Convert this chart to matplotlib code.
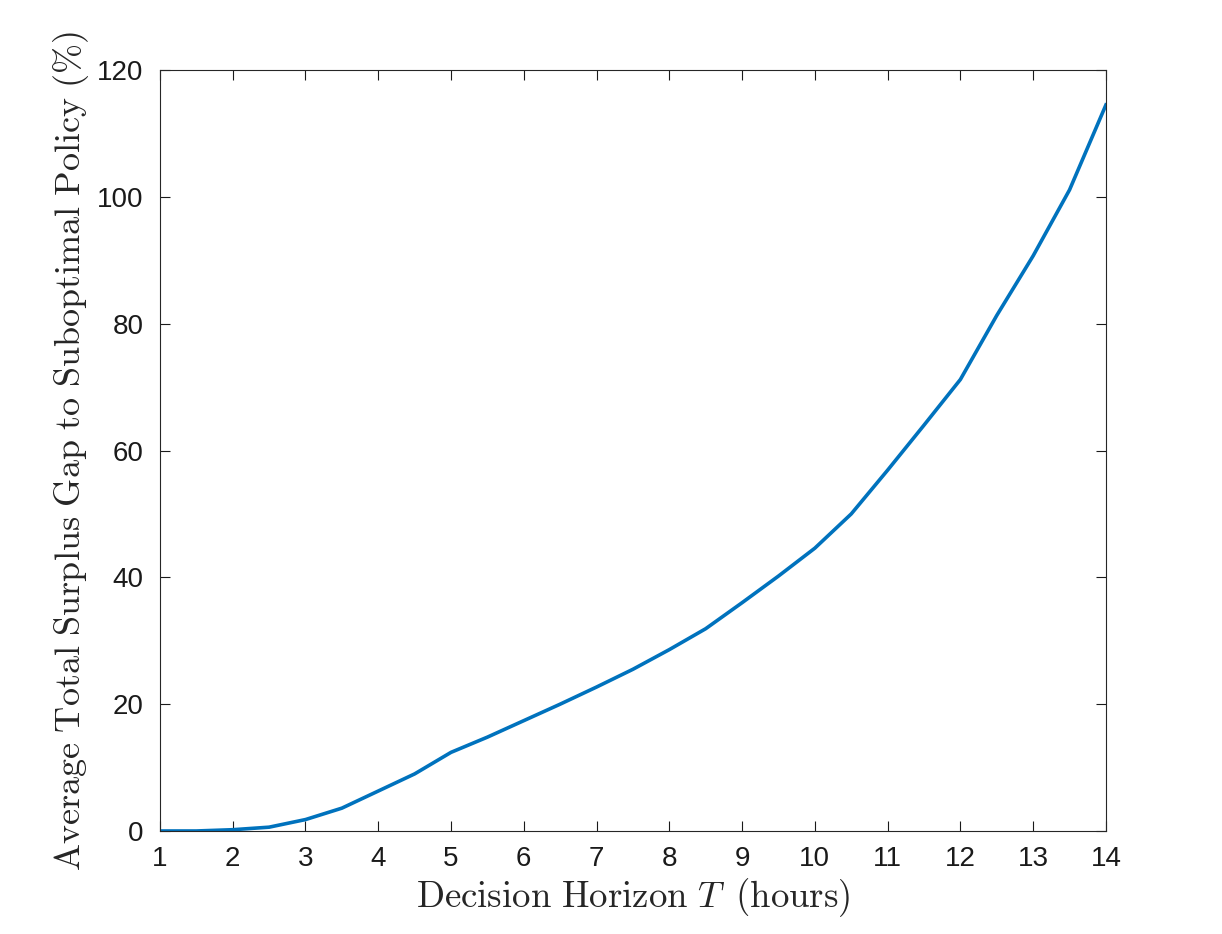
import matplotlib
matplotlib.use("Agg")
import matplotlib.pyplot as plt

horizon = [1, 1.5, 2, 2.5, 3, 3.5, 4, 4.5, 5, 5.5, 6, 6.5, 7, 7.5, 8, 8.5, 9, 9.5,
           10, 10.5, 11, 11.5, 12, 12.5, 13, 13.5, 14]
gap = [0.0, 0.0, 0.2, 0.6, 1.8, 3.6, 6.3, 9.0, 12.4, 14.8, 17.4, 20.0, 22.7, 25.5,
       28.6, 31.9, 36.0, 40.2, 44.6, 50.0, 56.9, 64.0, 71.2, 81.3, 90.7, 101.1, 114.5]
xticks = list(range(1, 15))
yticks = [0, 20, 40, 60, 80, 100, 120]

plt.rcParams['mathtext.fontset'] = 'cm'
plt.rcParams['font.family'] = ['Liberation Sans', 'DejaVu Sans']

fig = plt.figure(figsize=(12.22, 9.34), dpi=100)
ax = fig.add_axes([0.1309, 0.1103, 0.7741, 0.8147])
ax.plot(horizon, gap, color='#0072BD', linewidth=2.6)
ax.set_xlim(1, 14)
ax.set_ylim(0, 120)
ax.set_xticks(xticks)
ax.set_yticks(yticks)
ax.tick_params(direction='in', top=True, right=True, length=7, width=0.8,
               labelsize=20, colors='#1a1a1a')
ax.tick_params(axis='x', pad=11)
ax.tick_params(axis='y', pad=12)
for s in ax.spines.values():
    s.set_linewidth(0.8)
    s.set_color('#262626')
ax.set_xlabel(r'$\mathrm{Decision\ Horizon}\ T\ \,\mathrm{(hours)}$', fontsize=26.5, color='#262626', labelpad=3)
ax.set_ylabel(r'$\mathrm{Average\ Total\ Surplus\ Gap\ to\ Suboptimal\ Policy\ (\%)}$', fontsize=26,
              color='#262626', labelpad=4)
fig.savefig('out.png', dpi=100)
